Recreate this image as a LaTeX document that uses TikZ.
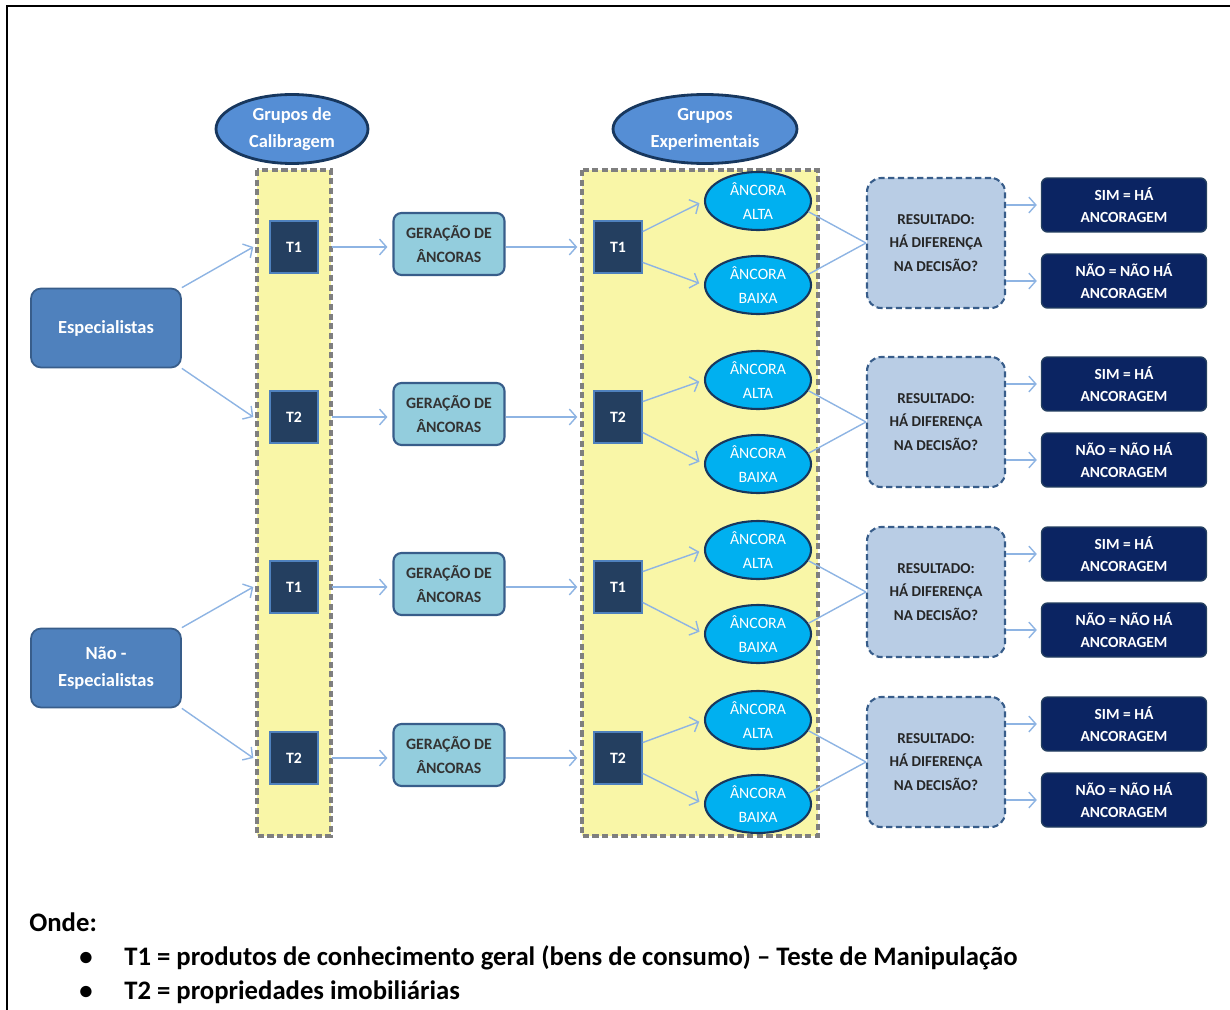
\documentclass[tikz,border=0pt]{standalone}
\usepackage{fontspec}
\setmainfont{Carlito}
\usetikzlibrary{arrows.meta,shapes.geometric}
\definecolor{azulesp}{HTML}{4F81BD}
\definecolor{azulborda}{HTML}{385D8A}
\definecolor{azulcab}{HTML}{558ED5}
\definecolor{marinho}{HTML}{17375E}
\definecolor{quadT}{HTML}{243F60}
\definecolor{geracao}{HTML}{93CDDD}
\definecolor{ancora}{HTML}{00B0F0}
\definecolor{resultado}{HTML}{B9CDE5}
\definecolor{simnao}{HTML}{0B2462}
\definecolor{amarelo}{HTML}{F9F6A7}
\definecolor{azulseta}{HTML}{8EB4E3}
\definecolor{cinza}{HTML}{7F7F7F}
\begin{document}
\begin{tikzpicture}[x=0.02cm,y=-0.02cm,
  cabec/.style={ellipse,draw=marinho,line width=1.6pt,fill=azulcab,text=white,align=center,
    minimum width=3.04cm,minimum height=1.38cm,inner sep=0pt,font=\bfseries\fontsize{10.5}{15.3}\selectfont},
  perito/.style={rounded corners=0.2cm,draw=azulborda,line width=1pt,fill=azulesp,text=white,align=center,
    minimum width=3cm,minimum height=1.58cm,font=\bfseries\fontsize{10.5}{15.3}\selectfont},
  teste/.style={draw=azulesp,line width=0.8pt,fill=quadT,text=white,
    minimum width=0.96cm,minimum height=1.04cm,font=\bfseries\fontsize{9}{10}\selectfont},
  gera/.style={rounded corners=0.16cm,draw=azulborda,line width=1.2pt,fill=geracao,text=black!80,align=center,
    minimum width=2.22cm,minimum height=1.24cm,inner sep=0pt,font=\bfseries\fontsize{9}{14}\selectfont},
  anc/.style={ellipse,draw=marinho,line width=1.2pt,fill=ancora,text=white,align=center,
    minimum width=2.12cm,minimum height=1.16cm,inner sep=0pt,font=\fontsize{9}{13.5}\selectfont},
  res/.style={rounded corners=0.28cm,draw=azulborda,dashed,dash pattern=on 3.5pt off 2pt,line width=1.2pt,
    fill=resultado,text=black!85,align=center,minimum width=2.76cm,minimum height=2.6cm,inner sep=0pt,
    font=\bfseries\fontsize{8.6}{13.3}\selectfont},
  fim/.style={rounded corners=0.12cm,draw=quadT,line width=0.8pt,fill=simnao,text=white,align=center,
    minimum width=3.3cm,minimum height=1.08cm,inner sep=0pt,font=\bfseries\fontsize{8.8}{13}\selectfont},
  coluna/.style={fill=amarelo,draw=cinza,dash pattern=on 3.5pt off 2pt,line width=2pt},
  flecha/.style={draw=azulseta,line width=0.8pt,-{Straight Barb[length=4pt,width=9pt]}},
  liga/.style={draw=azulseta,line width=0.8pt},
  legenda/.style={anchor=base west,inner sep=0pt,font=\bfseries\fontsize{15.2}{18}\selectfont}]
\useasboundingbox (0,0) rectangle (1230,1010);
\draw[line width=1.2pt] (7,1010) -- (7,6) -- (1230,6);

% colunas amarelas
\draw[coluna] (257,170) rectangle (331,836);
\draw[coluna] (582,170) rectangle (818,836);

\node[cabec] (calib) at (292,129) {Grupos de\\Calibragem};
\node[cabec,minimum width=3.68cm] (exper) at (705,129) {Grupos\\Experimentais};

\node[perito] (esp) at (106,328) {Especialistas};
\node[perito] (naoesp) at (106,668) {Não -\\Especialistas};

\foreach \i/\y/\yr/\t in {1/247/243/T1,2/417/422/T2,3/587/592/T1,4/758/762/T2}{
  \node[teste] (tc\i) at (294,\y) {\t};
  \node[gera] (ger\i) at (449,\y-3) {GERAÇÃO DE\\ÂNCORAS};
  \node[teste] (te\i) at (618,\y) {\t};
  \node[anc] (alta\i) at (758,\yr-42) {ÂNCORA\\ALTA};
  \node[anc] (baixa\i) at (758,\yr+42) {ÂNCORA\\BAIXA};
  \node[res] (res\i) at (936,\yr) {RESULTADO:\\HÁ DIFERENÇA\\NA DECISÃO?};
  \node[fim] (sim\i) at (1124,\yr-38) {SIM = HÁ\\ANCORAGEM};
  \node[fim] (nao\i) at (1124,\yr+38) {NÃO = NÃO HÁ\\ANCORAGEM};
  \draw[flecha,shorten <=0.26cm,shorten >=0.1cm] (tc\i.east) -- (tc\i.east -| ger\i.west);
  \draw[flecha,shorten >=0.32cm] (ger\i.east |- te\i.west) -- (te\i.west);
  \draw[flecha,shorten >=0.1cm] (te\i.32) -- (alta\i.west);
  \draw[flecha,shorten >=0.1cm] (te\i.-32) -- (baixa\i.west);
  \draw[liga] (alta\i.-12) -- (res\i.west);
  \draw[liga] (baixa\i.12) -- (res\i.west);
  \draw[flecha,shorten >=0.08cm] (res\i.east |- sim\i) -- (sim\i.west);
  \draw[flecha,shorten >=0.08cm] (res\i.east |- nao\i) -- (nao\i.west);
}

\draw[flecha] (esp.north east) -- ([xshift=-0.32cm]tc1.west);
\draw[flecha] (esp.south east) -- ([xshift=-0.32cm]tc2.west);
\draw[flecha] (naoesp.north east) -- ([xshift=-0.32cm]tc3.west);
\draw[flecha] (naoesp.south east) -- ([xshift=-0.32cm]tc4.west);

% legenda
\node[legenda] (onde) at (29,931) {Onde:};
\node[legenda] (bul1) at (79,965) {•};
\node[legenda] (leg1) at (124,965) {T1 = produtos de conhecimento geral (bens de consumo) – Teste de Manipulação};
\node[legenda] (bul2) at (79,999) {•};
\node[legenda] (leg2) at (124,999) {T2 = propriedades imobiliárias};
\end{tikzpicture}
\end{document}
